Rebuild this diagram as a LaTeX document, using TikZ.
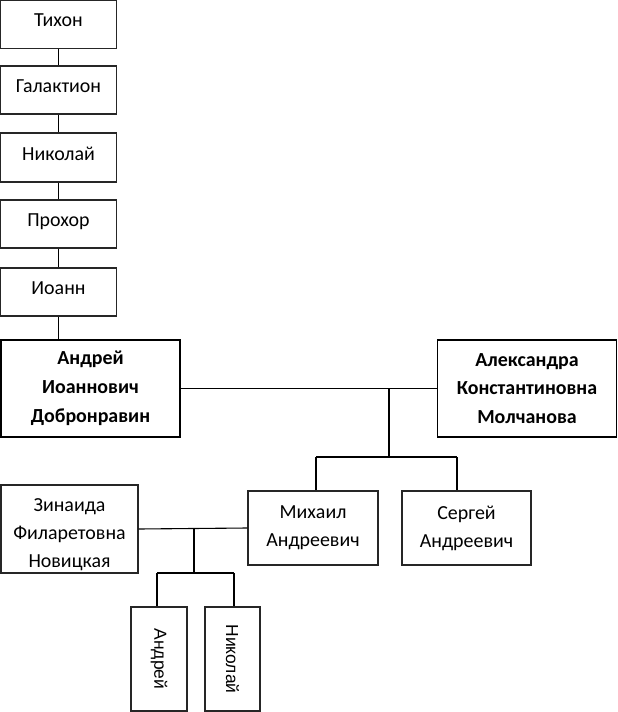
\documentclass[tikz,border=0pt]{standalone}
\usepackage{fontspec}
\setmainfont{Carlito}
\newfontfamily\arialfont{Liberation Sans}
\usetikzlibrary{calc}

\begin{document}
\begin{tikzpicture}[x=1bp,y=-1bp,line width=1.1bp,
    box/.style={draw=black!85,line width=1.1bp,rectangle,inner sep=0pt,align=center,font=\fontsize{20}{28}\selectfont},
    namebox/.style={box,minimum width=116bp,minimum height=48bp,text depth=8bp},
    bigbox/.style={box,draw=black,line width=1.8bp,font=\fontsize{20}{29}\selectfont\bfseries},
    vbox/.style={box,font=\fontsize{17.5}{20}\arialfont}]
\useasboundingbox (0,0) rectangle (618,712);
\node[namebox] (tikhon) at (58.5,24.5) {Тихон};
\node[namebox] (galaktion) at (58.5,90) {Галактион};
\node[namebox,minimum height=49bp] (nikolay) at (58.5,157.5) {Николай};
\node[namebox] (prokhor) at (58.5,224) {Прохор};
\node[namebox] (ioann) at (58.5,292) {Иоанн};
\node[bigbox,minimum width=179bp,minimum height=97bp] (andrey) at (90.5,388.5) {Андрей\\Иоаннович\\Добронравин};
\node[bigbox,minimum width=179bp,minimum height=97bp] (aleksandra) at (527,388.5) {Александра\\Константиновна\\Молчанова};
\node[box,minimum width=137bp,minimum height=88bp,text height=80bp,text depth=4bp] (zinaida) at (69.5,529) {Зинаида\\Филаретовна\\Новицкая};
\node[box,minimum width=130bp,minimum height=74bp] (mikhail) at (313,528) {Михаил\\Андреевич};
\node[box,minimum width=129bp,minimum height=74bp] (sergey) at (466.5,528) {Сергей\\Андреевич};
\node[vbox,minimum width=56bp,minimum height=104bp] (andreyjr) at (159,659) {\rotatebox{-90}{Андрей}};
\node[vbox,minimum width=55bp,minimum height=104bp] (nikolayjr) at (232.5,659) {\rotatebox{-90}{Николай}};
\draw (tikhon) -- (galaktion);
\draw (galaktion) -- (nikolay);
\draw (nikolay) -- (prokhor);
\draw (prokhor) -- (ioann);
\draw (ioann.south) -- (ioann.south |- andrey.north);
\draw (andrey.east) -- (aleksandra.west);
\coordinate (a1) at (389,389);
\coordinate (a2) at (389,457);
\coordinate (s1) at (316,457);
\coordinate (s2) at (457,457);
\draw (a1) -- (a2);
\draw (s1) -- (s2);
\draw (s1) -- (s1 |- mikhail.north);
\draw (s2) -- (s2 |- sergey.north);
\draw (zinaida.east) -- (mikhail.west);
\coordinate (z1) at (194,529);
\coordinate (z2) at (194,573);
\coordinate (c1) at (157,573);
\coordinate (c2) at (234,573);
\draw (z1) -- (z2);
\draw (c1) -- (c2);
\draw (c1) -- (c1 |- andreyjr.north);
\draw (c2) -- (c2 |- nikolayjr.north);
\end{tikzpicture}
\end{document}
